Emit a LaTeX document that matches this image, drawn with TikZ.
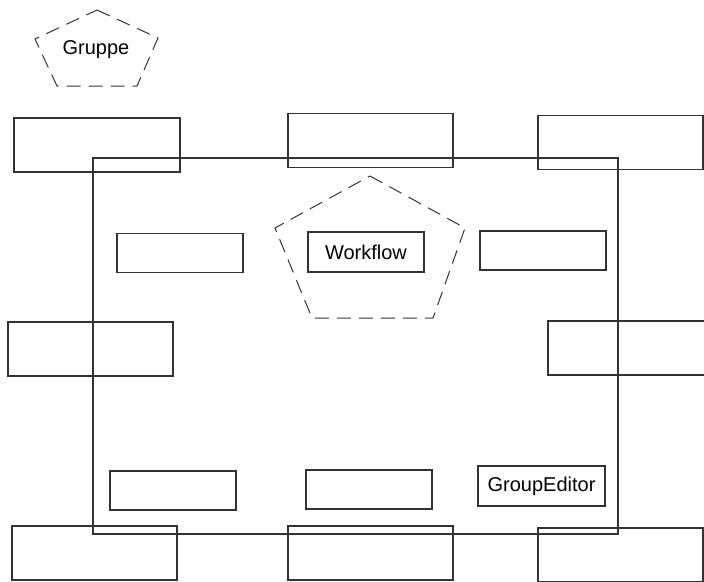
\documentclass[tikz,border=0pt]{standalone}
\usepackage{fontspec}
\setmainfont{Liberation Sans}
\usepackage{tikz}

\begin{document}
\begin{tikzpicture}[
  x=1pt, y=-1pt,
  panel/.style={rectangle, draw=black!80, line width=1.1pt, inner sep=0pt},
  slot/.style={panel, minimum width=165pt, minimum height=54pt},
  widget/.style={panel, minimum width=126pt, minimum height=39pt, font=\fontsize{20}{24}\selectfont},
  pent/.style={draw=black!80, line width=1pt, dash pattern=on 14pt off 8pt},
  label/.style={inner sep=0pt, font=\fontsize{20}{24}\selectfont},
]
  \useasboundingbox (0,0) rectangle (704,581);

  % frame
  \node[panel, minimum width=525pt, minimum height=376pt] (frame) at (355.5,346) {};

  % outer slots
  \node[slot, minimum width=166pt] (north west) at (97,145) {};
  \node[slot] (north) at (370.5,140.5) {};
  \node[slot] (north east) at (620.5,142.5) {};
  \node[slot] (west) at (90.5,349) {};
  \node[slot] (east) at (630.5,348) {};
  \node[slot] (south west) at (94.5,553) {};
  \node[slot] (south) at (370.5,553) {};
  \node[slot] (south east) at (620.5,555) {};

  % inner widgets
  \node[widget] (w1) at (180,253) {};
  \node[widget, minimum width=116pt, minimum height=40pt] (workflow) at (366,252) {Workflow};
  \node[widget] (w3) at (543,250.5) {};
  \node[widget] (w4) at (173,490.5) {};
  \node[widget] (w5) at (369,489.5) {};
  \node[widget, minimum width=127pt, minimum height=40pt] (groupeditor) at (541.5,486) {GroupEditor};

  % dashed pentagons
  \node[label] (gruppe) at (96,50) {Gruppe};
  \draw[pent] (97,10) -- (158,38) -- (137,86) -- (57,86) -- (35,39) -- cycle;
  \draw[pent] (370,176) -- (465,228) -- (433,318) -- (312,318) -- (275,228) -- cycle;
\end{tikzpicture}
\end{document}
